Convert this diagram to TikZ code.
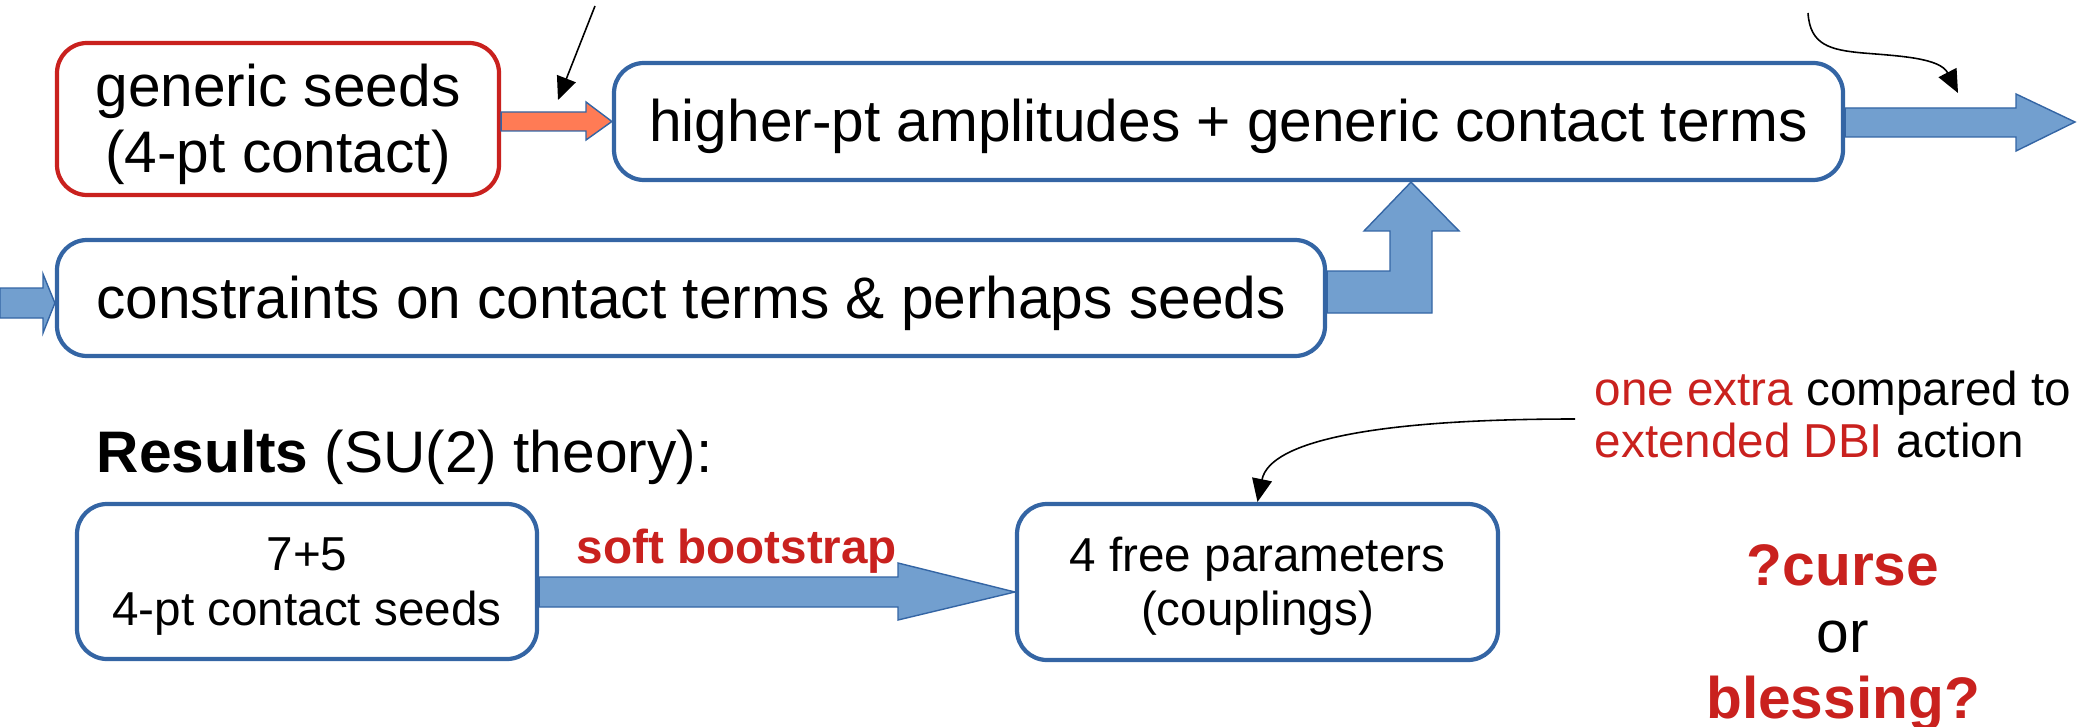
\documentclass[tikz,border=0pt]{standalone}
\usepackage{fontspec}
\setmainfont{Liberation Sans}
\usetikzlibrary{arrows.meta}
\definecolor{boxred}{HTML}{C9211E}
\definecolor{boxblue}{HTML}{3465A4}
\definecolor{arrowblue}{HTML}{729FCF}
\definecolor{arroworange}{HTML}{FF7B55}
\newcommand\bigtext{\fontsize{16.68pt}{18.8pt}\selectfont}
\newcommand\smalltext{\fontsize{13.55pt}{15.4pt}\selectfont}
\newcommand\topstrut{\rule{0pt}{0.905em}}
\newcommand\botstrut{\rule[-0.212em]{0pt}{0.212em}}

\begin{document}
\begin{tikzpicture}[x=0.1mm, y=-0.1mm,
  box/.style = {draw=boxblue, line width=1.2pt, rounded corners=3mm, align=center, inner sep=0pt},
  fat/.style = {draw=boxblue, line width=0.4pt, fill=arrowblue},
  pointer/.style = {-{Triangle[length=2.3mm, width=2mm]}, line width=0.45pt},
  hot/.style = {text=boxred}]
  \useasboundingbox (0,0) rectangle (2088,727);

  \node[box, draw=boxred, minimum width=44.2mm, minimum height=15.2mm, font=\bigtext] (seeds) at (278,119)
    {\topstrut generic seeds\\(4-pt contact)\botstrut};
  \node[box, minimum width=122.9mm, minimum height=11.7mm, font=\bigtext] (amps) at (1228.5,121.5)
    {\topstrut higher-pt amplitudes + generic contact terms\botstrut};
  \node[box, minimum width=126.8mm, minimum height=11.6mm, font=\bigtext] (constr) at (691,298)
    {\topstrut constraints on contact terms \& perhaps seeds\botstrut};
  \node[anchor=base west, inner sep=0pt, font=\bigtext] (res) at (96,472)
    {\textbf{Results} (SU(2) theory):};
  \node[box, minimum width=46mm, minimum height=15.5mm, font=\smalltext] (seven) at (307,581.5)
    {\topstrut 7+5\\4-pt contact seeds\botstrut};
  \node[box, minimum width=48.1mm, minimum height=15.6mm, font=\smalltext] (free) at (1257.5,582)
    {\topstrut 4 free parameters\\(couplings)\botstrut};
  \node[anchor=base, inner sep=0pt, font=\smalltext\bfseries, hot] (soft) at (737,563) {soft bootstrap};
  \node[anchor=north west, inner sep=0pt, align=left, font={\fontsize{13.55pt}{14.8pt}\selectfont}] (note) at (1594,362)
    {\topstrut\textcolor{boxred}{one extra} compared to\\\textcolor{boxred}{extended DBI} action\botstrut};
  \node[align=center, inner sep=0pt, font=\bigtext] (verdict) at (1843,631.7)
    {\topstrut\textbf{\textcolor{boxred}{?curse}}\\or\\\textbf{\textcolor{boxred}{blessing?}}\botstrut};

  % block arrows
  \draw[fat, fill=arroworange] (seeds.east |- 0,112) -- (586,112) -- (586,102) -- (amps.west)
    -- (586,140) -- (586,131) -- (seeds.east |- 0,131) -- cycle;
  \draw[fat] (amps.east |- 0,108) -- (2016,108) -- (2016,94) -- (2075,122) -- (2016,151)
    -- (2016,137) -- (amps.east |- 0,137) -- cycle;
  \draw[fat] (0,288) -- (43,288) -- (43,274) -- (constr.west |- 0,303) -- (43,333) -- (43,318) -- (0,318) -- cycle;
  \draw[fat] (constr.east |- 0,271) -- (1390,271) -- (1390,231) -- (1364,231) -- (amps.south -| 1411,0)
    -- (1459,231) -- (1432,231) -- (1432,313) -- (constr.east |- 0,313) -- cycle;
  \draw[fat] (seven.east |- 0,577) -- (898,577) -- (898,563) -- (free.west |- 0,592) -- (898,620)
    -- (898,607) -- (seven.east |- 0,607) -- cycle;

  % thin pointers
  \coordinate (from1) at (595,6);
  \coordinate (tip1) at (558,100);
  \coordinate (from2) at (1808,13);
  \coordinate (tip2) at (1958,93);
  \coordinate (from3) at (1575,419);
  \draw[pointer] (from1) -- (tip1);
  \draw[pointer] (from2) .. controls (1810,45) and (1830,50) .. (1863,53) .. controls (1900,56) and (1940,58) .. (tip2);
  \draw[pointer] (from3) .. controls (1380,419) and (1270,440) .. (free.north);
\end{tikzpicture}
\end{document}
